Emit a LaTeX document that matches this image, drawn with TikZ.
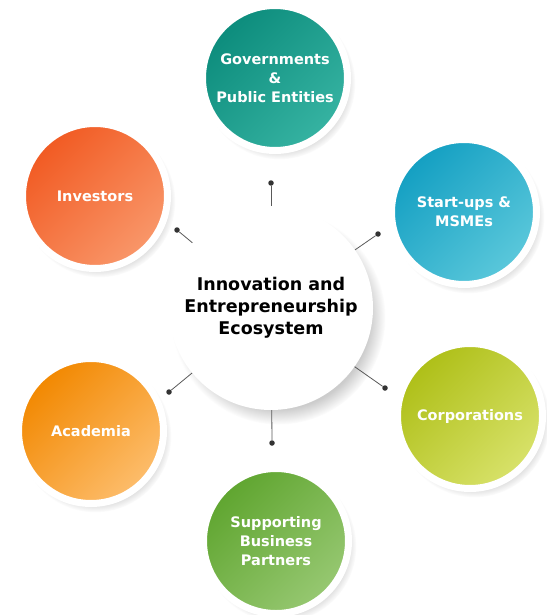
\documentclass[tikz,border=0pt]{standalone}
\usepackage{fontspec}
\setmainfont{DejaVu Sans}
\usepackage{xcolor}
\usetikzlibrary{shadows}

\definecolor{govA}{HTML}{0C8C7C}
\definecolor{govB}{HTML}{36B3A2}
\definecolor{invA}{HTML}{F15A22}
\definecolor{invB}{HTML}{F9976A}
\definecolor{staA}{HTML}{139FC2}
\definecolor{staB}{HTML}{5BC8DB}
\definecolor{corA}{HTML}{AEBF17}
\definecolor{corB}{HTML}{D8E26A}
\definecolor{acaA}{HTML}{F28800}
\definecolor{acaB}{HTML}{FDBD6C}
\definecolor{supA}{HTML}{5FA52F}
\definecolor{supB}{HTML}{97C872}

\tikzset{
	actor/.style={circle, minimum size=145pt, inner sep=0pt, draw=white, line width=7pt,
		circular drop shadow={shadow xshift=4pt, shadow yshift=-5pt, opacity=0.35, shadow scale=1.05},
		text=white, align=center, font=\fontsize{14.5}{19}\selectfont\bfseries},
	tint/.style 2 args={top color=#1, bottom color=#2, shading angle=45},
	hub/.style={circle, minimum size=204pt, inner sep=0pt, fill=white,
		circular drop shadow={shadow xshift=7pt, shadow yshift=-9pt, opacity=0.4, shadow scale=1.05},
		align=center, font=\fontsize{17.5}{22}\selectfont\bfseries},
	spoke/.style={draw=black!65, line width=0.8pt},
	dot/.style={circle, fill=black!80, inner sep=0pt, minimum size=5.5pt}
}

\begin{document}
\begin{tikzpicture}[x=1pt, y=-1pt]
		\useasboundingbox (0,0) rectangle (546,615);
		\node[hub] (eco) at (271,308) {Innovation and\\Entrepreneurship\\Ecosystem};

		\node[dot] (dgov) at (271,183) {};
		\node[dot] (dinv) at (177,230) {};
		\node[dot] (dsta) at (378,234) {};
		\node[dot] (daca) at (169,392) {};
		\node[dot] (dcor) at (385,388) {};
		\node[dot] (dsup) at (272,443) {};
		\foreach \d in {dgov,dinv,dsta,daca,dcor,dsup}
			\draw[spoke] (eco) -- (\d);

		\node[actor, tint={govA}{govB}] (gov) at (275,78) {Governments\\\&\\Public Entities};
		\node[actor, tint={invA}{invB}] (inv) at (95,196) {Investors};
		\node[actor, tint={staA}{staB}] (sta) at (464,212) {Start-ups \&\\MSMEs};
		\node[actor, tint={corA}{corB}] (cor) at (470,416) {Corporations};
		\node[actor, tint={acaA}{acaB}] (aca) at (91,431) {Academia};
		\node[actor, tint={supA}{supB}] (sup) at (276,541) {Supporting\\Business\\Partners};
	\end{tikzpicture}
\end{document}
